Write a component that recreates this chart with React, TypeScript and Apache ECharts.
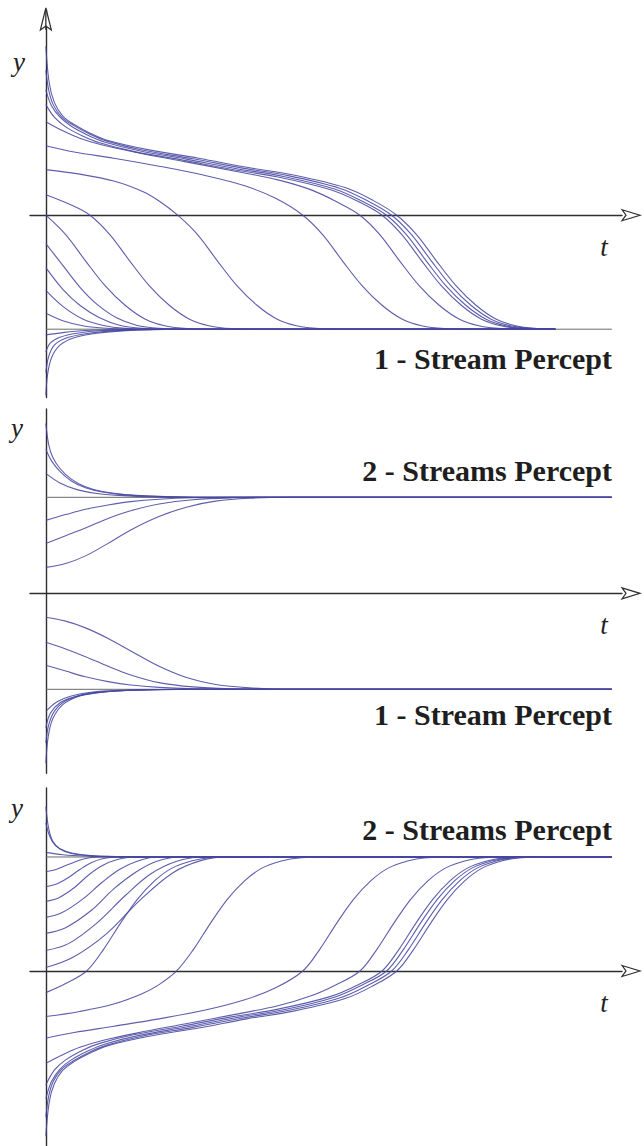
import React, { useEffect, useRef } from "react";
import * as echarts from "echarts";

type Pt = [number, number];

// ---------- Panel A (1 - Stream Percept) ----------
const aTopBundle: Pt[][] = [
  [[0,1.48],[0.06,1.16],[0.15,0.99],[0.3,0.87],[0.5,0.795],[0.8,0.715],[1.1,0.655],[1.8,0.575],[2.7,0.5],[3.55,0.42],[4.4,0.35],[5.3,0.24],[5.78,0.13],[6.2,0],[6.55,-0.17],[6.9,-0.4],[7.25,-0.62],[7.6,-0.79],[7.95,-0.91],[8.3,-0.97],[8.7,-0.995],[9.0,-1]],
  [[0,1.27],[0.05,1.1],[0.13,0.97],[0.28,0.86],[0.48,0.79],[0.78,0.71],[1.08,0.65],[1.72,0.57],[2.6,0.495],[3.45,0.415],[4.3,0.345],[5.2,0.235],[5.69,0.125],[6.11,0],[6.46,-0.17],[6.81,-0.4],[7.16,-0.62],[7.51,-0.79],[7.86,-0.91],[8.21,-0.97],[8.6,-0.995],[9.0,-1]],
  [[0,1.1],[0.1,0.96],[0.25,0.86],[0.45,0.78],[0.75,0.7],[1.05,0.64],[1.65,0.565],[2.5,0.49],[3.35,0.41],[4.2,0.34],[5.1,0.23],[5.6,0.12],[6.02,0],[6.37,-0.17],[6.72,-0.4],[7.07,-0.62],[7.42,-0.79],[7.77,-0.91],[8.12,-0.97],[8.5,-0.995],[9.0,-1]],
  [[0,0.97],[0.15,0.86],[0.35,0.775],[0.65,0.695],[0.95,0.635],[1.55,0.56],[2.4,0.485],[3.25,0.405],[4.1,0.335],[5.02,0.225],[5.52,0.12],[5.94,0],[6.29,-0.17],[6.64,-0.4],[6.99,-0.62],[7.34,-0.79],[7.69,-0.91],[8.04,-0.97],[8.45,-0.995],[9.0,-1]],
];
const aUpper: Pt[][] = [
  [[0,0.82],[0.3,0.74],[0.6,0.675],[1.0,0.615],[1.6,0.55],[2.45,0.47],[3.3,0.39],[4.1,0.31],[4.7,0.22],[5.13,0.12],[5.55,0],[5.9,-0.17],[6.25,-0.4],[6.6,-0.62],[6.95,-0.79],[7.3,-0.91],[7.65,-0.97],[8.05,-0.995],[8.5,-1],[9,-1]],
  [[0,0.61],[0.5,0.555],[1.2,0.5],[2.0,0.43],[2.8,0.35],[3.5,0.26],[4.05,0.15],[4.54,0],[4.89,-0.17],[5.24,-0.4],[5.59,-0.62],[5.94,-0.79],[6.29,-0.91],[6.64,-0.97],[7.04,-0.995],[7.5,-1],[9,-1]],
  [[0,0.4],[0.6,0.36],[1.2,0.3],[1.7,0.21],[2.0,0.125],[2.33,0],[2.68,-0.17],[3.03,-0.4],[3.38,-0.62],[3.73,-0.79],[4.08,-0.91],[4.43,-0.97],[4.83,-0.995],[5.3,-1],[9,-1]],
  [[0,0.18],[0.4,0.1],[0.78,0],[1.13,-0.17],[1.48,-0.4],[1.83,-0.62],[2.18,-0.79],[2.53,-0.91],[2.88,-0.97],[3.28,-0.995],[3.8,-1],[9,-1]],
];
const aBetween: Pt[][] = [
  [[0,0],[0.35,-0.17],[0.7,-0.4],[1.05,-0.62],[1.4,-0.79],[1.75,-0.91],[2.1,-0.97],[2.5,-0.995],[3.0,-1],[9,-1]],
  [[0,-0.25],[0.3,-0.44],[0.6,-0.63],[0.9,-0.78],[1.25,-0.9],[1.6,-0.965],[2.0,-0.993],[2.5,-1],[9,-1]],
  [[0,-0.46],[0.3,-0.65],[0.6,-0.79],[0.95,-0.9],[1.3,-0.965],[1.7,-0.993],[2.2,-1],[9,-1]],
  [[0,-0.66],[0.3,-0.8],[0.65,-0.91],[1.0,-0.965],[1.4,-0.993],[1.9,-1],[9,-1]],
  [[0,-0.86],[0.3,-0.925],[0.65,-0.97],[1.0,-0.99],[1.5,-1],[9,-1]],
];
const aLower: Pt[][] = [
  [[0,-1.05],[0.3,-1.03],[0.7,-1.012],[1.2,-1.004],[1.8,-1],[9,-1]],
  [[0,-1.2],[0.08,-1.12],[0.25,-1.07],[0.55,-1.035],[1.0,-1.012],[1.6,-1.003],[2.3,-1],[9,-1]],
  [[0,-1.38],[0.05,-1.24],[0.15,-1.14],[0.35,-1.08],[0.7,-1.04],[1.2,-1.015],[1.9,-1.003],[2.6,-1],[9,-1]],
  [[0,-1.58],[0.03,-1.4],[0.1,-1.25],[0.25,-1.14],[0.5,-1.075],[0.9,-1.035],[1.5,-1.01],[2.3,-1.002],[3,-1],[9,-1]],
];

// ---------- Panel B (2 - Streams above, 1 - Stream below) ----------
const bTwoAbove: Pt[][] = [
  [[0,1.77],[0.05,1.55],[0.12,1.42],[0.25,1.3],[0.45,1.19],[0.7,1.11],[1.0,1.06],[1.4,1.03],[2.0,1.01],[2.8,1],[10,1]],
  [[0,1.5],[0.1,1.38],[0.25,1.27],[0.45,1.17],[0.7,1.1],[1.0,1.055],[1.4,1.025],[2.0,1.008],[2.8,1],[10,1]],
  [[0,1.25],[0.25,1.15],[0.55,1.08],[0.9,1.04],[1.3,1.02],[1.9,1.005],[2.7,1],[10,1]],
];
const bTwoBelow: Pt[][] = [
  [[0,0.76],[0.35,0.82],[0.7,0.875],[1.1,0.92],[1.5,0.955],[2.0,0.98],[2.6,0.995],[3.3,1],[10,1]],
  [[0,0.52],[0.35,0.6],[0.7,0.68],[1.1,0.78],[1.5,0.86],[2.0,0.93],[2.6,0.975],[3.3,0.995],[4,1],[10,1]],
  [[0,0.27],[0.35,0.31],[0.7,0.39],[1.1,0.52],[1.5,0.66],[2.0,0.8],[2.5,0.9],[3.0,0.96],[3.6,0.99],[4.3,1],[10,1]],
];
const bOneAbove: Pt[][] = [
  [[0,-0.25],[0.35,-0.29],[0.7,-0.36],[1.1,-0.47],[1.5,-0.6],[2.0,-0.76],[2.5,-0.88],[3.0,-0.95],[3.6,-0.985],[4.3,-1],[10,-1]],
  [[0,-0.51],[0.35,-0.58],[0.7,-0.66],[1.1,-0.76],[1.5,-0.85],[2.0,-0.93],[2.6,-0.975],[3.3,-0.995],[4,-1],[10,-1]],
  [[0,-0.75],[0.35,-0.81],[0.7,-0.87],[1.1,-0.92],[1.5,-0.955],[2.0,-0.98],[2.6,-0.995],[3.3,-1],[10,-1]],
];
const bOneBelow: Pt[][] = [
  [[0,-1.23],[0.2,-1.13],[0.45,-1.07],[0.8,-1.03],[1.3,-1.01],[2.0,-1.002],[2.8,-1],[10,-1]],
  [[0,-1.4],[0.08,-1.25],[0.25,-1.14],[0.5,-1.08],[0.9,-1.035],[1.5,-1.01],[2.3,-1.002],[3,-1],[10,-1]],
  [[0,-1.56],[0.05,-1.37],[0.15,-1.23],[0.35,-1.12],[0.7,-1.05],[1.2,-1.018],[1.9,-1.004],[2.8,-1],[10,-1]],
  [[0,-1.77],[0.04,-1.5],[0.12,-1.31],[0.3,-1.16],[0.6,-1.07],[1.0,-1.03],[1.6,-1.008],[2.5,-1],[10,-1]],
];

// ---------- Panel C (2 - Streams Percept) ----------
const cAbove: Pt[][] = [
  [[0,1.44],[0.05,1.25],[0.12,1.14],[0.25,1.07],[0.45,1.03],[0.8,1.01],[1.4,1.002],[2.2,1],[10,1]],
  [[0,1.3],[0.07,1.18],[0.17,1.1],[0.35,1.05],[0.65,1.02],[1.1,1.005],[1.8,1],[10,1]],
  [[0,1.04],[0.3,1.02],[0.7,1.008],[1.2,1.002],[1.8,1],[10,1]],
];
const cBetween: Pt[][] = [
  [[0,0.87],[0.15,0.885],[0.3,0.915],[0.48,0.95],[0.65,0.98],[0.8,0.995],[1.0,1],[10,1]],
  [[0,0.74],[0.2,0.765],[0.4,0.82],[0.6,0.89],[0.8,0.95],[1.0,0.985],[1.25,1],[10,1]],
  [[0,0.61],[0.22,0.64],[0.5,0.73],[0.75,0.84],[1.0,0.925],[1.25,0.975],[1.55,1],[10,1]],
  [[0,0.47],[0.28,0.51],[0.65,0.63],[1.0,0.78],[1.3,0.89],[1.6,0.96],[1.95,1],[10,1]],
  [[0,0.33],[0.35,0.38],[0.8,0.53],[1.2,0.72],[1.6,0.87],[1.95,0.96],[2.35,1],[10,1]],
  [[0,0.18],[0.4,0.24],[0.9,0.42],[1.4,0.66],[1.85,0.85],[2.3,0.96],[2.75,1],[10,1]],
  [[0,0.03],[0.48,0.12],[1.08,0.33],[1.66,0.62],[2.24,0.86],[2.75,0.97],[3.2,1],[10,1]],
];
const cCrossing: Pt[][] = [
  [[0,-0.19],[0.35,-0.11],[0.72,0],[1.02,0.19],[1.32,0.42],[1.62,0.63],[1.92,0.79],[2.22,0.9],[2.57,0.965],[2.92,0.993],[3.4,1],[10,1]],
  [[0,-0.4],[0.6,-0.355],[1.2,-0.29],[1.7,-0.2],[2.0,-0.12],[2.31,0],[2.61,0.19],[2.91,0.42],[3.21,0.63],[3.51,0.79],[3.81,0.9],[4.16,0.965],[4.51,0.993],[5.0,1],[10,1]],
  [[0,-0.59],[0.5,-0.54],[1.2,-0.485],[2.0,-0.42],[2.8,-0.345],[3.5,-0.255],[4.05,-0.15],[4.54,0],[4.84,0.19],[5.14,0.42],[5.44,0.63],[5.74,0.79],[6.04,0.9],[6.39,0.965],[6.74,0.993],[7.2,1],[10,1]],
  [[0,-0.81],[0.3,-0.735],[0.6,-0.67],[1.0,-0.61],[1.6,-0.545],[2.45,-0.465],[3.3,-0.385],[4.1,-0.305],[4.7,-0.215],[5.13,-0.12],[5.55,0],[5.85,0.19],[6.15,0.42],[6.45,0.63],[6.75,0.79],[7.05,0.9],[7.4,0.965],[7.75,0.993],[8.2,1],[10,1]],
];
const cBundle: Pt[][] = [
  [[0,-1.0],[0.15,-0.87],[0.35,-0.78],[0.65,-0.695],[0.95,-0.635],[1.55,-0.56],[2.4,-0.485],[3.25,-0.405],[4.1,-0.335],[5.02,-0.225],[5.52,-0.12],[5.94,0],[6.24,0.19],[6.54,0.42],[6.84,0.63],[7.14,0.79],[7.44,0.9],[7.79,0.965],[8.14,0.993],[8.6,1],[10,1]],
  [[0,-1.12],[0.1,-0.97],[0.25,-0.86],[0.45,-0.78],[0.75,-0.7],[1.05,-0.64],[1.65,-0.565],[2.5,-0.49],[3.35,-0.41],[4.2,-0.34],[5.1,-0.23],[5.6,-0.12],[6.02,0],[6.32,0.19],[6.62,0.42],[6.92,0.63],[7.22,0.79],[7.52,0.9],[7.87,0.965],[8.22,0.993],[8.7,1],[10,1]],
  [[0,-1.28],[0.05,-1.1],[0.13,-0.97],[0.28,-0.86],[0.48,-0.79],[0.78,-0.71],[1.08,-0.65],[1.72,-0.57],[2.6,-0.495],[3.45,-0.415],[4.3,-0.345],[5.2,-0.235],[5.69,-0.125],[6.11,0],[6.41,0.19],[6.71,0.42],[7.01,0.63],[7.31,0.79],[7.61,0.9],[7.96,0.965],[8.31,0.993],[8.8,1],[10,1]],
  [[0,-1.45],[0.06,-1.15],[0.15,-0.99],[0.3,-0.87],[0.5,-0.795],[0.8,-0.715],[1.1,-0.655],[1.8,-0.575],[2.7,-0.5],[3.55,-0.42],[4.4,-0.35],[5.3,-0.24],[5.78,-0.13],[6.2,0],[6.5,0.19],[6.8,0.42],[7.1,0.63],[7.4,0.79],[7.7,0.9],[8.05,0.965],[8.4,0.993],[8.9,1],[10,1]],
];

// fixed-point (percept) levels per panel
const levelsA = [-1];
const levelsB = [1, -1];
const levelsC = [1];
const levelEnd = 10;

const perceptLabels = ["1 - Stream Percept", "2 - Streams Percept", "1 - Stream Percept", "2 - Streams Percept"];

// ---------- layout ----------
const W = 644;
const H = 1146;
const T_MIN = -0.28;
const T_MAX = 10.18;
const GRID_LEFT = 30;
const GRID_RIGHT = 22;
const panels = [
  { top: 10, height: 387.6, min: -1.6, max: 1.8 },
  { top: 409, height: 364.3, min: -1.875, max: 1.92 },
  { top: 788, height: 357.96, min: -1.535, max: 1.605 },
];
const axisY = panels.map((p) => p.top + (p.max / (p.max - p.min)) * p.height);
const axisX = GRID_LEFT + ((0 - T_MIN) / (T_MAX - T_MIN)) * (W - GRID_LEFT - GRID_RIGHT);

const CURVE = "rgba(72,72,160,0.88)";
const AXIS = "#2e2e2e";
const LEVEL = "#6a6a6a";
const SERIF = "Liberation Serif, Times New Roman, serif";

export default function App() {
  const ref = useRef<HTMLDivElement>(null);
  useEffect(() => {
    if (!ref.current) return;
    const chart = echarts.init(ref.current, undefined, { renderer: "svg" });

    const curveSeries = (data: Pt[], gi: number) => ({
      type: "line",
      xAxisIndex: gi,
      yAxisIndex: gi,
      data,
      symbol: "none",
      smooth: 0.35,
      silent: true,
      z: 3,
      lineStyle: { color: CURVE, width: 1.1 },
    });
    const levelSeries = (v: number, gi: number) => ({
      type: "line",
      xAxisIndex: gi,
      yAxisIndex: gi,
      data: [[0, v], [levelEnd, v]],
      symbol: "none",
      silent: true,
      z: 2,
      lineStyle: { color: LEVEL, width: 1 },
    });

    const series: any[] = [];
    levelsA.forEach((v) => series.push(levelSeries(v, 0)));
    levelsB.forEach((v) => series.push(levelSeries(v, 1)));
    levelsC.forEach((v) => series.push(levelSeries(v, 2)));
    [...aTopBundle, ...aUpper, ...aBetween, ...aLower].forEach((d) => series.push(curveSeries(d, 0)));
    [...bTwoAbove, ...bTwoBelow, ...bOneAbove, ...bOneBelow].forEach((d) => series.push(curveSeries(d, 1)));
    [...cAbove, ...cBetween, ...cCrossing, ...cBundle].forEach((d) => series.push(curveSeries(d, 2)));

    const axisLine = { show: true, onZero: true, lineStyle: { color: AXIS, width: 1.4 } };
    const hidden = {
      axisTick: { show: false },
      axisLabel: { show: false },
      splitLine: { show: false },
    };

    const italic = (text: string, x: number, y: number) => ({
      type: "text",
      x,
      y,
      z: 50,
      style: {
        text,
        fontFamily: SERIF,
        fontStyle: "italic",
        fontSize: 27,
        fill: "#222",
        align: "center",
        verticalAlign: "middle",
        textAlign: "center",
        textVerticalAlign: "middle",
      },
    });
    const bold = (text: string, y: number) => ({
      type: "text",
      x: 612,
      y,
      z: 50,
      style: {
        text,
        fontFamily: SERIF,
        fontWeight: "bold",
        fontSize: 30,
        fill: "#1e1e1e",
        align: "right",
        verticalAlign: "middle",
        textAlign: "right",
        textVerticalAlign: "middle",
      },
    });
    const xArrow = (y: number) => ({
      type: "polygon",
      z: 60,
      shape: { points: [[622, y - 5.5], [640, y], [622, y + 5.5], [626, y]] },
      style: { fill: "#fff", stroke: AXIS, lineWidth: 1.2 },
    });

    chart.setOption({
      animation: false,
      backgroundColor: "#fff",
      grid: panels.map((p) => ({
        left: GRID_LEFT,
        right: GRID_RIGHT,
        top: p.top,
        height: p.height,
        containLabel: false,
      })),
      xAxis: panels.map((_, i) => ({
        type: "value",
        gridIndex: i,
        min: T_MIN,
        max: T_MAX,
        axisLine,
        ...hidden,
      })),
      yAxis: panels.map((p, i) => ({
        type: "value",
        gridIndex: i,
        min: p.min,
        max: p.max,
        axisLine,
        ...hidden,
      })),
      series,
      graphic: [
        {
          type: "polygon",
          z: 60,
          shape: { points: [[axisX, 8], [axisX - 5.5, 30], [axisX, 26], [axisX + 5.5, 30]] },
          style: { fill: "#fff", stroke: AXIS, lineWidth: 1.2 },
        },
        {
          type: "line",
          z: 61,
          shape: { x1: axisX, y1: 10, x2: axisX, y2: 30 },
          style: { stroke: AXIS, lineWidth: 1.3 },
        },
        ...axisY.map((y) => xArrow(y)),
        italic("y", 19, 62),
        italic("t", 604, axisY[0] + 32),
        bold(perceptLabels[0], 358),
        italic("y", 17, 428),
        bold(perceptLabels[1], 470),
        italic("t", 604, axisY[1] + 32),
        bold(perceptLabels[2], 714),
        italic("y", 17, 808),
        bold(perceptLabels[3], 829),
        italic("t", 604, axisY[2] + 32),
      ],
    });

    return () => chart.dispose();
  }, []);

  return (
    <div
      ref={ref}
      style={{ position: "absolute", left: 0, top: 0, width: W, height: H, background: "#fff" }}
    />
  );
}
